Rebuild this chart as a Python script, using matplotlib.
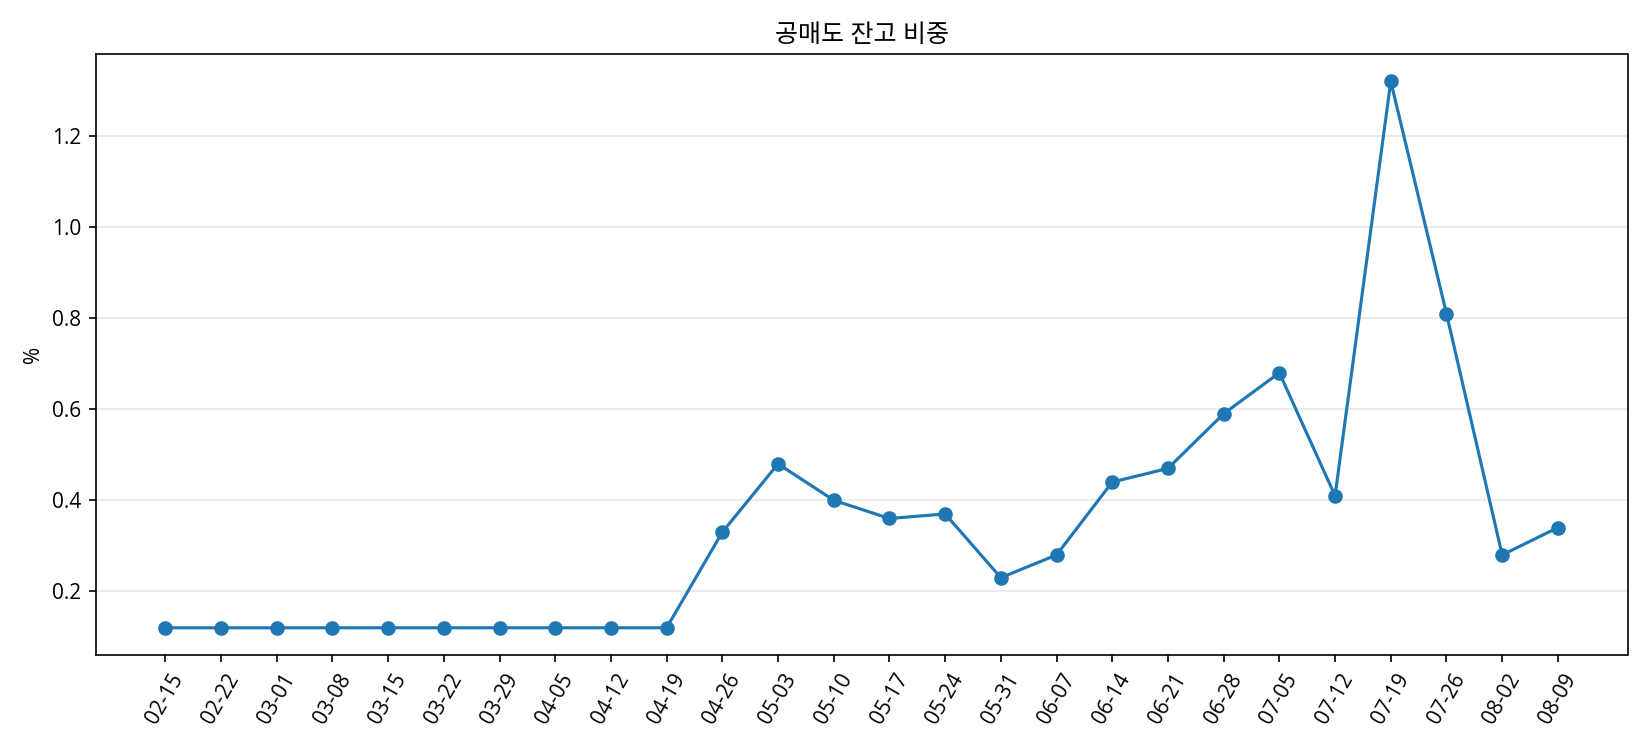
import matplotlib
matplotlib.use("Agg")
import matplotlib.pyplot as plt

plt.rcParams['font.family'] = ['Open Sans', 'Noto Sans CJK KR', 'DejaVu Sans']

dates = ["02-15", "02-22", "03-01", "03-08", "03-15", "03-22", "03-29", "04-05",
         "04-12", "04-19", "04-26", "05-03", "05-10", "05-17", "05-24", "05-31",
         "06-07", "06-14", "06-21", "06-28", "07-05", "07-12", "07-19", "07-26",
         "08-02", "08-09"]
ratio = [0.12, 0.12, 0.12, 0.12, 0.12, 0.12, 0.12, 0.12, 0.12, 0.12,
         0.33, 0.48, 0.40, 0.36, 0.37, 0.23, 0.28, 0.44, 0.47, 0.59,
         0.68, 0.41, 1.32, 0.81, 0.28, 0.34]

fig, ax = plt.subplots(figsize=(11, 5), dpi=150)
ax.plot(dates, ratio, marker="o", color="#1f77b4")
ax.set_title("공매도 잔고 비중")
ax.set_ylabel("%")
ax.grid(axis="y", alpha=0.3)
plt.xticks(rotation=60)
plt.tight_layout()
plt.savefig("out.png")
